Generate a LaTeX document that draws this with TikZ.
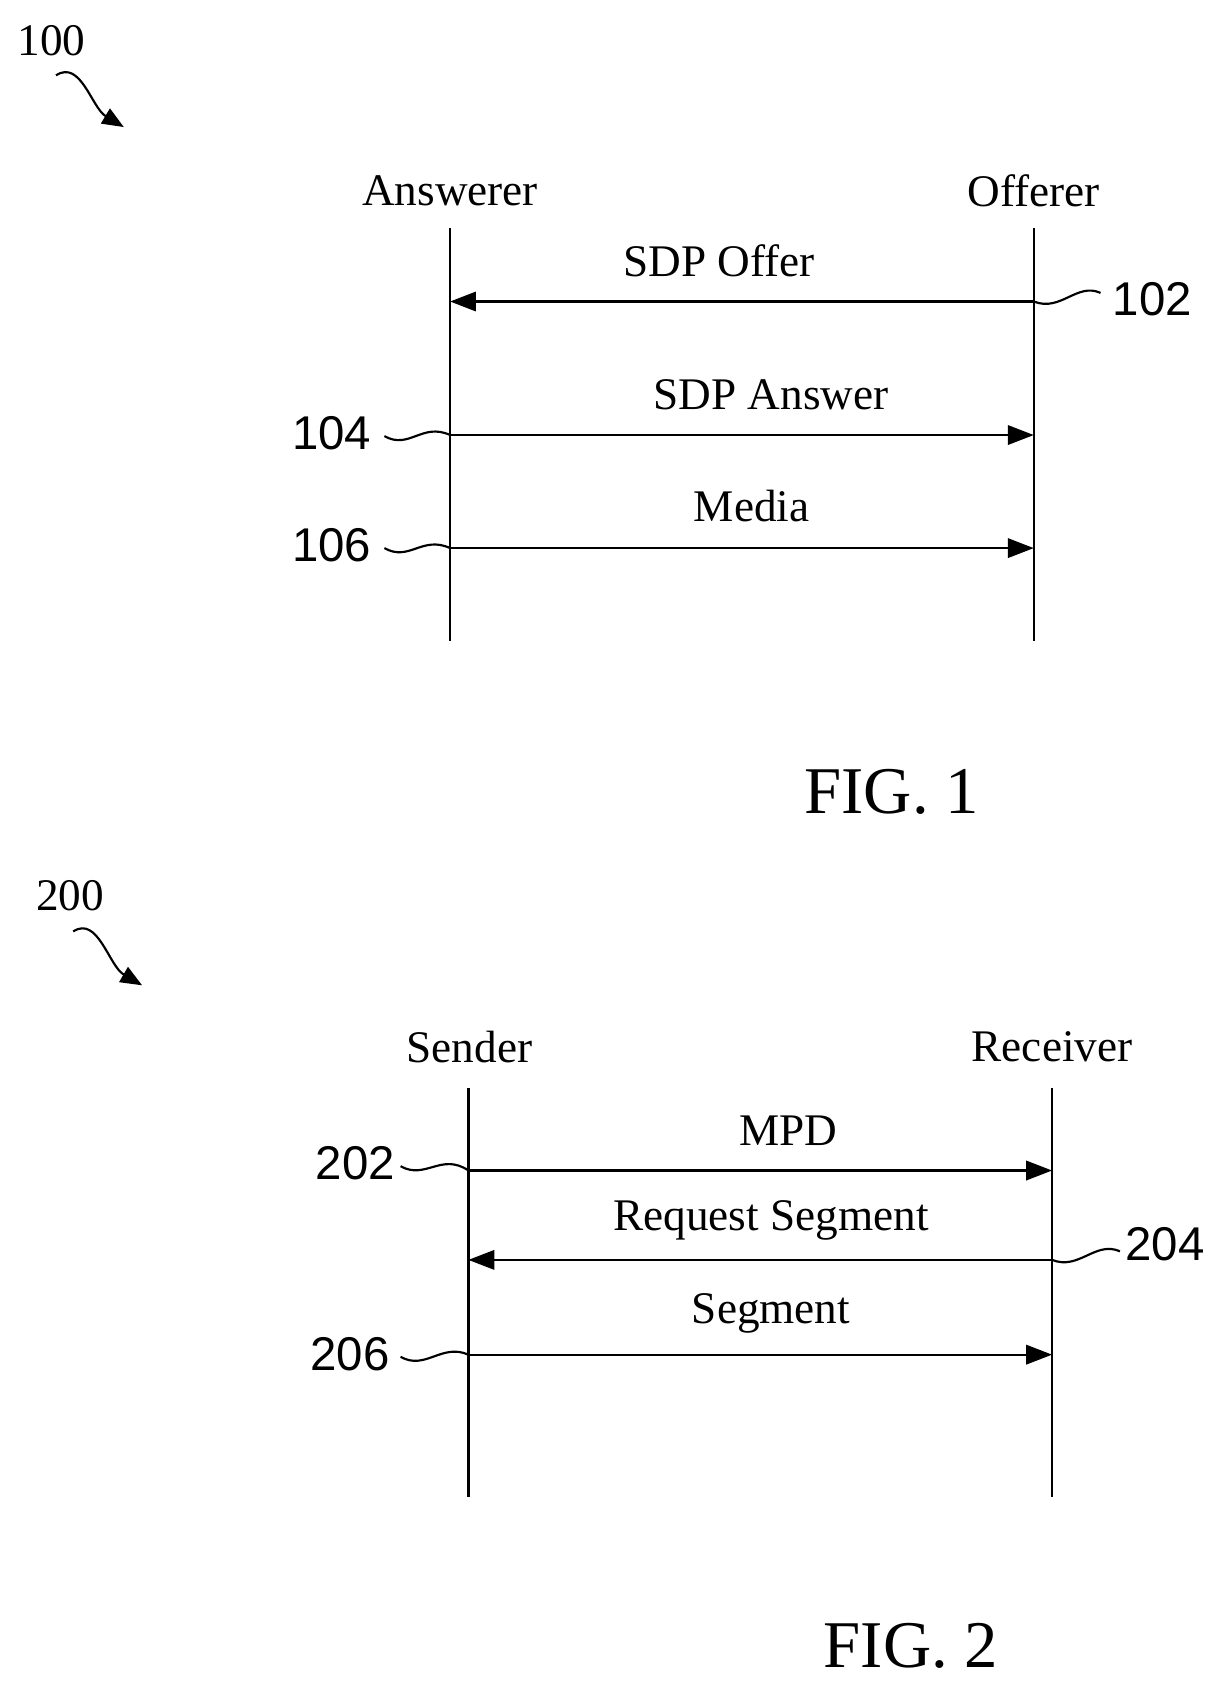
\documentclass[tikz,border=0pt]{standalone}
\usepackage{fontspec}
\setmainfont{Liberation Serif}
\newfontfamily\numfont{Liberation Sans}
\usetikzlibrary{arrows.meta}
\begin{document}
\begin{tikzpicture}[x=0.5pt,y=-0.5pt,
  lbl/.style={font=\fontsize{21}{24}\selectfont},
  num/.style={font=\numfont\fontsize{22}{24}\selectfont},
  fig/.style={font=\fontsize{31}{34}\selectfont},
  life/.style={line width=1pt},
  msg/.style={line width=1pt,-{Triangle[length=12pt,width=9pt]}},
  sq/.style={line width=1pt}]
\useasboundingbox (0,0) rectangle (1130,1562);
% FIG 1
\node[lbl] (n100) at (48,38) {100};
\coordinate (a1) at (52,70); \coordinate (a2) at (115,118);
\draw[line width=1pt,-{Triangle[length=10pt,width=8pt]}] (a1) .. controls (75,55) and (85,100) .. (a2);
\node[lbl] (ans) at (418,177) {Answerer};
\node[lbl] (off) at (960,177) {Offerer};
\coordinate (at) at (418,212); \coordinate (ab) at (418,595);
\coordinate (ot) at (960,212); \coordinate (ob) at (960,595);
\draw[life] (at) -- (ab); \draw[life] (ot) -- (ob);
\coordinate (o1) at (960,280); \coordinate (a1r) at (418,280);
\draw[msg] (o1) -- (a1r);
\node[lbl] (t1) at (668,242) {SDP Offer};
\coordinate (a2l) at (418,404); \coordinate (o2) at (960,404);
\draw[msg] (a2l) -- (o2);
\node[lbl] (t2) at (716,367) {SDP Answer};
\coordinate (a3l) at (418,509); \coordinate (o3) at (960,509);
\draw[msg] (a3l) -- (o3);
\node[lbl] (t3) at (698,470) {Media};
\node[num] (n102) at (1070,278) {102};
\draw[sq] (o1) .. controls (985,290) and (1000,262) .. (1022,272);
\node[num] (n104) at (308,402) {104};
\draw[sq] (357,405) .. controls (380,418) and (392,392) .. (a2l);
\node[num] (n106) at (308,506) {106};
\draw[sq] (357,509) .. controls (380,522) and (392,497) .. (a3l);
\node[fig] (f1) at (828,735) {FIG. 1};
% FIG 2
\node[lbl] (n200) at (65,832) {200};
\coordinate (b1) at (68,865); \coordinate (b2) at (132,915);
\draw[line width=1pt,-{Triangle[length=10pt,width=8pt]}] (b1) .. controls (91,850) and (101,897) .. (b2);
\node[lbl] (snd) at (436,972) {Sender};
\node[lbl] (rcv) at (977,972) {Receiver};
\coordinate (st) at (435,1010); \coordinate (sb) at (435,1390);
\coordinate (rt) at (977,1010); \coordinate (rb) at (977,1390);
\draw[life] (st) -- (sb); \draw[life] (rt) -- (rb);
\coordinate (s1) at (435,1087); \coordinate (r1) at (977,1087);
\draw[msg] (s1) -- (r1);
\node[lbl] (m1) at (732,1050) {MPD};
\coordinate (r2) at (977,1170); \coordinate (s2) at (435,1170);
\draw[msg] (r2) -- (s2);
\node[lbl] (m2) at (716,1133) {Request Segment};
\coordinate (s3) at (435,1258); \coordinate (r3) at (977,1258);
\draw[msg] (s3) -- (r3);
\node[lbl] (m3) at (716,1220) {Segment};
\node[num] (n202) at (330,1080) {202};
\draw[sq] (372,1083) .. controls (395,1096) and (410,1070) .. (s1);
\node[num] (n204) at (1082,1155) {204};
\draw[sq] (r2) .. controls (1002,1180) and (1017,1152) .. (1040,1162);
\node[num] (n206) at (325,1258) {206};
\draw[sq] (372,1260) .. controls (395,1273) and (410,1247) .. (s3);
\node[fig] (f2) at (846,1528) {FIG. 2};
\end{tikzpicture}
\end{document}
